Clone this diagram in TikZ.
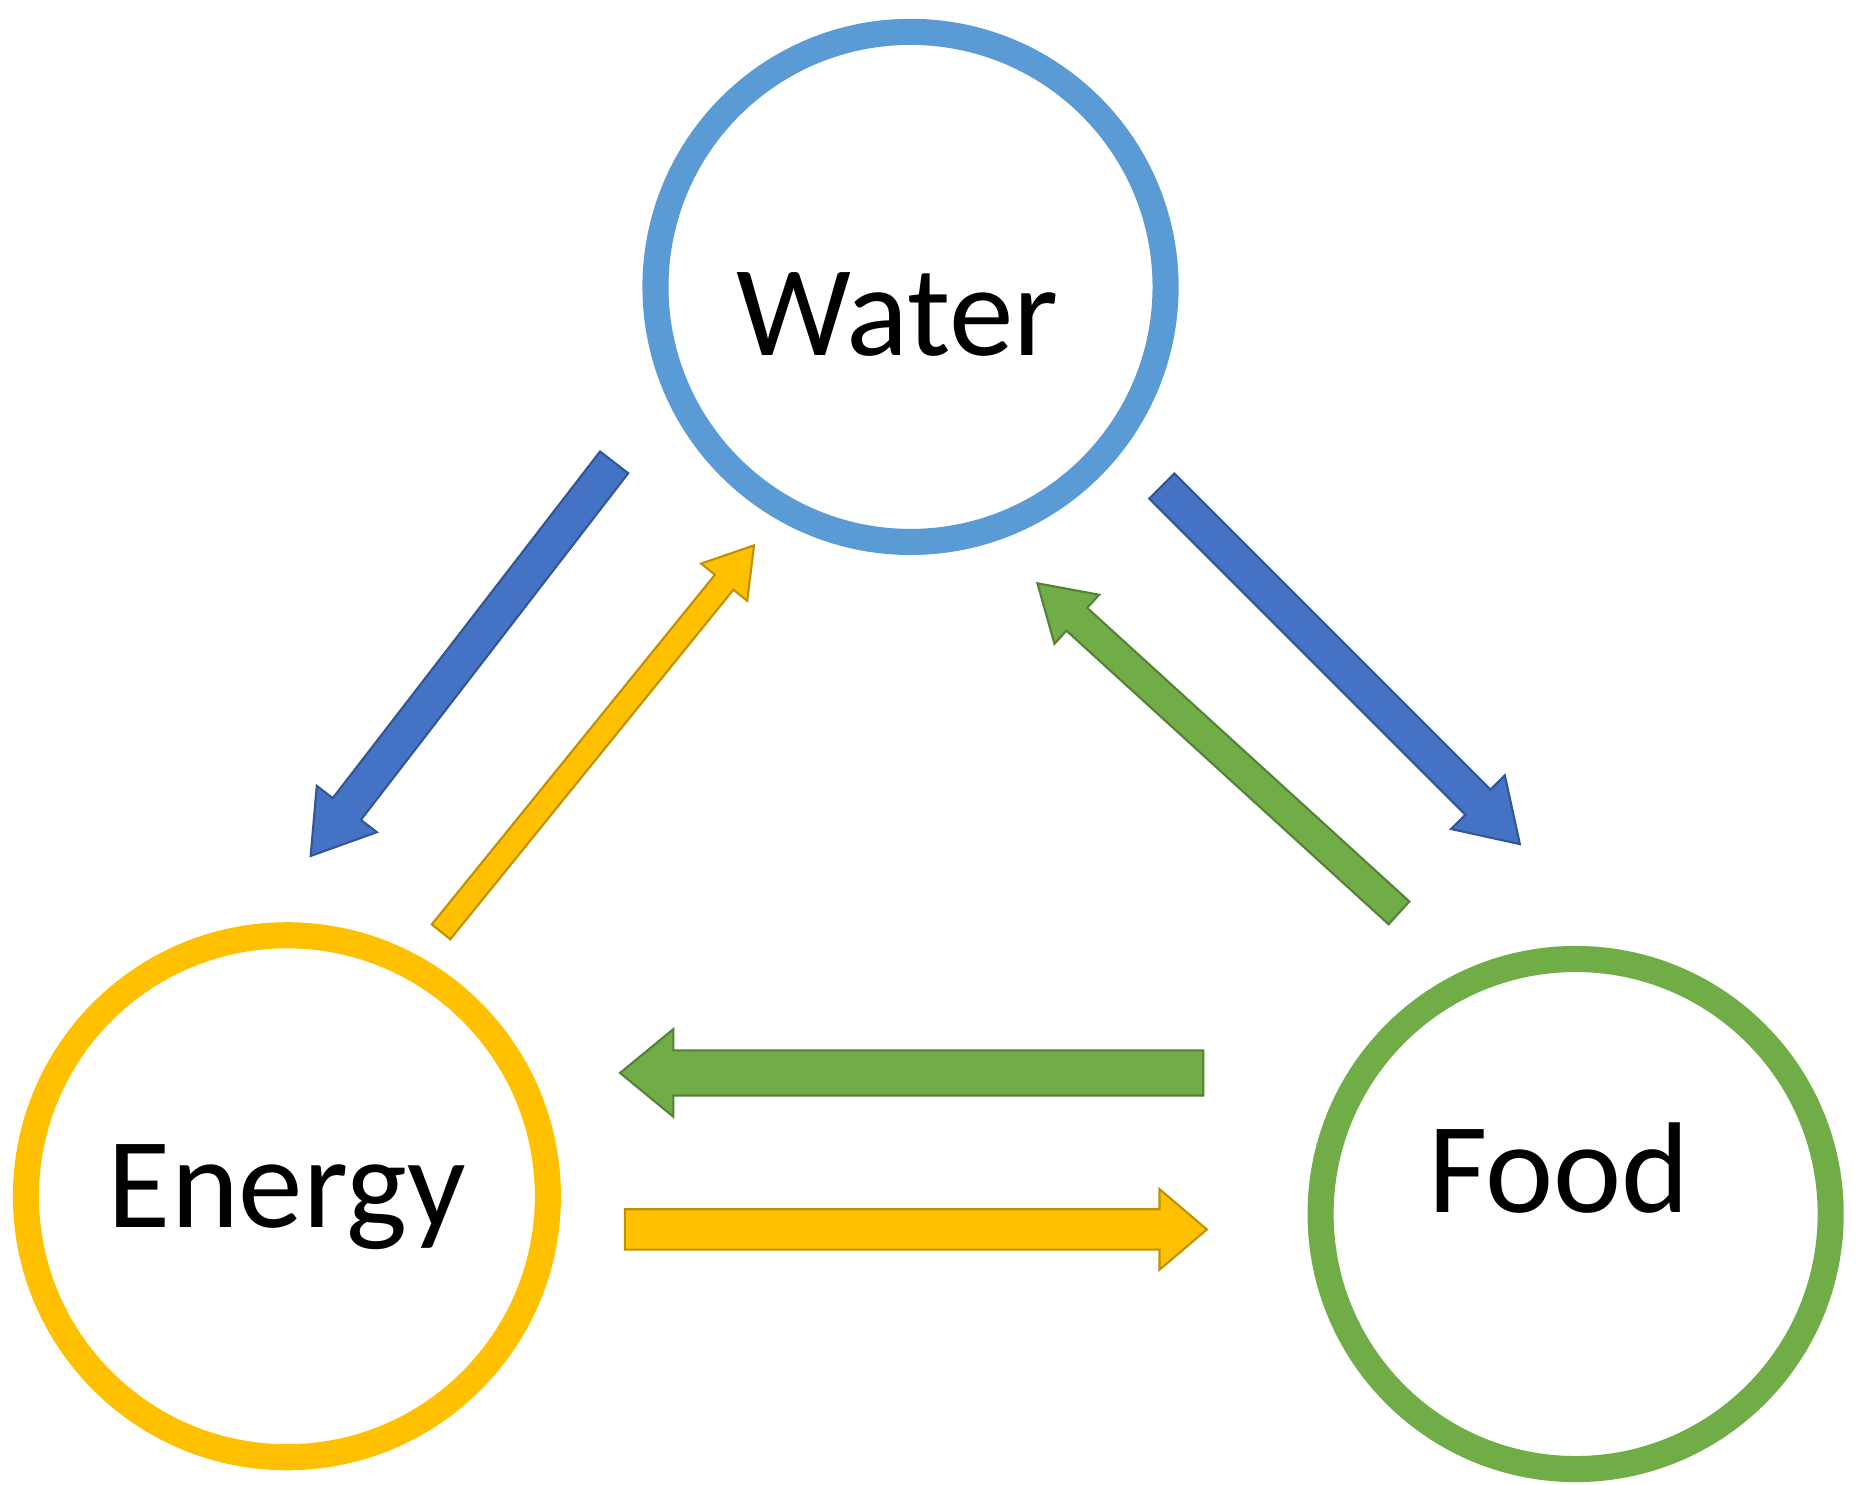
\documentclass[tikz,border=0pt]{standalone}
\usepackage{fontspec}
\setmainfont{Carlito}
\usetikzlibrary{calc}
\definecolor{wblue}{HTML}{5B9BD5}
\definecolor{ablue}{HTML}{4472C4}
\definecolor{ayel}{HTML}{FFC000}
\definecolor{agreen}{HTML}{70AD47}
\newcommand\blockarr[6]{%
\coordinate (nk) at ($(#2)!#5!(#1)$);
\draw[line width=0.5pt, draw=#6!75!black, fill=#6] ($(#1)!#3!90:(#2)$) -- ($(nk)!#3!90:(#2)$) -- ($(nk)!#4!90:(#2)$) -- (#2) -- ($(nk)!#4!-90:(#2)$) -- ($(nk)!#3!-90:(#2)$) -- ($(#1)!#3!-90:(#2)$) -- cycle;}
\begin{document}
\begin{tikzpicture}[x=0.01cm,y=-0.01cm,
  ring/.style={circle, line width=0.22cm, minimum size=4.3cm, fill=white},
  txt/.style={font=\fontsize{31}{34}\selectfont}]
\useasboundingbox[fill=white] (0,0) rectangle (1568,1252);
\node[ring, draw=wblue] (water) at (768,242) {};
\node[ring, draw=ayel, minimum size=4.4cm] (energy) at (242,1009) {};
\node[ring, draw=agreen] (food) at (1329,1024) {};
\node[txt] (wt) at (757,265) {Water};
\node[txt] (et) at (242,1010) {Energy};
\node[txt] (ft) at (1315,985) {Food};
% arrow end points
\coordinate (a1s) at (518,390); \coordinate (a1t) at (262,722);
\coordinate (a2s) at (372,786); \coordinate (a2t) at (636,460);
\coordinate (a3s) at (980,410); \coordinate (a3t) at (1282,712);
\coordinate (a4s) at (1180,770); \coordinate (a4t) at (875,492);
\coordinate (a5s) at (1015,905); \coordinate (a5t) at (523,905);
\coordinate (a6s) at (527,1037); \coordinate (a6t) at (1018,1037);
\blockarr{a1s}{a1t}{0.15cm}{0.32cm}{0.5cm}{ablue}
\blockarr{a2s}{a2t}{0.1cm}{0.25cm}{0.4cm}{ayel}
\blockarr{a3s}{a3t}{0.15cm}{0.32cm}{0.5cm}{ablue}
\blockarr{a4s}{a4t}{0.13cm}{0.28cm}{0.45cm}{agreen}
\blockarr{a5s}{a5t}{0.19cm}{0.37cm}{0.45cm}{agreen}
\blockarr{a6s}{a6t}{0.17cm}{0.34cm}{0.4cm}{ayel}
\end{tikzpicture}
\end{document}
